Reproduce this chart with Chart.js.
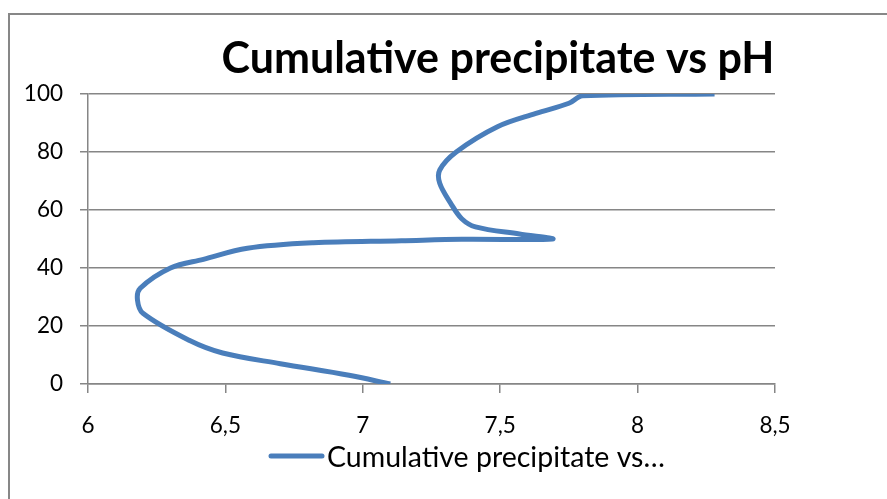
<!DOCTYPE html>
<html>
<head>
<meta charset="utf-8">
<title>Cumulative precipitate vs pH</title>
<script src="https://cdn.jsdelivr.net/npm/chart.js@4.4.1/dist/chart.umd.min.js"></script>
<style>
  html, body { margin: 0; padding: 0; background: #fff; overflow: hidden; }
  #frame {
    position: absolute; left: 8px; top: 13px; width: 2000px; height: 2000px;
    border-left: 2px solid #878787; border-top: 2px solid #878787;
  }
  #wrap { position: absolute; left: 0; top: 0; width: 887px; height: 499px; }
</style>
</head>
<body>
<div id="frame"></div>
<div id="wrap"><canvas id="chart" width="887" height="499"></canvas></div>
<script>
// ── Data ────────────────────────────────────────────
const TITLE = "Cumulative precipitate vs pH";
const SERIES_LABEL = "Cumulative precipitate vs pH";
const LEGEND_TEXT = "Cumulative precipitate vs…";

const PH = [7.10, 6.95, 6.70, 6.49, 6.37, 6.20, 6.18, 6.19, 6.30, 6.42, 6.58, 6.82, 7.14, 7.36,
            7.69, 7.57, 7.41, 7.36, 7.32, 7.28, 7.28, 7.34, 7.49, 7.63, 7.75, 7.80, 8.28];
const PRECIP = [0, 3, 7, 10.7, 15, 24.4, 29, 33, 40, 43, 46.8, 48.7, 49.4, 49.9,
                50, 51.7, 54.2, 57, 62.3, 69.2, 73.8, 80, 88.7, 93.3, 96.8, 99.4, 100];

const X_TICKS = [6, 6.5, 7, 7.5, 8, 8.5];
const Y_TICKS = [0, 20, 40, 60, 80, 100];

const LINE_COLOR = "#4a7ebb";
const GRID_COLOR = "#868686";
const FONT = "Lato, 'Open Sans', sans-serif";

// ── Title + legend drawn in Excel-like spots ────────
const excelText = {
  id: "excelText",
  afterDraw(chart) {
    const ctx = chart.ctx;
    ctx.save();
    ctx.fillStyle = "#000";
    ctx.font = `bold 43px ${FONT}`;
    ctx.textAlign = "center";
    ctx.textBaseline = "alphabetic";
    ctx.fillText(TITLE, 498, 73);

    ctx.strokeStyle = LINE_COLOR;
    ctx.lineWidth = 5;
    ctx.lineCap = "round";
    ctx.beginPath();
    ctx.moveTo(271, 456);
    ctx.lineTo(322, 456);
    ctx.stroke();

    ctx.font = `28.5px ${FONT}`;
    ctx.textAlign = "left";
    ctx.textBaseline = "middle";
    ctx.fillText(LEGEND_TEXT, 327, 458);
    ctx.restore();
  },
};

new Chart(document.getElementById("chart"), {
  type: "scatter",
  data: {
    datasets: [{
      label: SERIES_LABEL,
      data: PH.map((x, i) => ({ x, y: PRECIP[i] })),
      showLine: true,
      borderColor: LINE_COLOR,
      backgroundColor: LINE_COLOR,
      borderWidth: 5,
      pointRadius: 0,
      tension: 0.35,
    }],
  },
  options: {
    responsive: false,
    animation: false,
    devicePixelRatio: 1,
    layout: { padding: { left: 0, top: 94, right: 112, bottom: 55 } },
    plugins: {
      legend: { display: false },
      title: { display: false },
      tooltip: { enabled: false },
    },
    scales: {
      x: {
        type: "linear",
        min: 6, max: 8.5,
        afterBuildTicks: s => { s.ticks = X_TICKS.map(v => ({ value: v })); },
        afterFit: s => { s.height = 60; },
        ticks: {
          color: "#000",
          font: { family: FONT, size: 22.5 },
          padding: 19,
          maxRotation: 0,
          callback: v => String(v).replace(".", ","),
        },
        grid: { drawOnChartArea: false, drawTicks: true, tickLength: 9, color: GRID_COLOR, lineWidth: 1.5 },
        border: { display: true, color: GRID_COLOR, width: 1.5 },
      },
      y: {
        type: "linear",
        min: 0, max: 100,
        afterBuildTicks: s => { s.ticks = Y_TICKS.map(v => ({ value: v })); },
        afterFit: s => { s.width = 88; },
        ticks: {
          color: "#000",
          font: { family: FONT, size: 22.5 },
          padding: 17,
        },
        grid: { color: GRID_COLOR, lineWidth: 1.5, tickLength: 8 },
        border: { display: true, color: GRID_COLOR, width: 1.5 },
      },
    },
  },
  plugins: [excelText],
});
</script>
</body>
</html>
